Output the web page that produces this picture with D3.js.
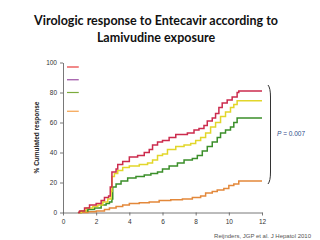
<!DOCTYPE html>
<html>
<head>
<meta charset="utf-8">
<script src="https://cdn.jsdelivr.net/npm/d3@7"></script>
<style>
  body { margin: 0; background: #fff; }
  svg { display: block; }
</style>
</head>
<body>
<script>
// chart size
var W = 320;
var H = 240;

// data (months, % cumulated response)
var redSeries = [[0.9,0],[1.0,1],[1.3,3],[1.6,5],[2.0,6],[2.3,8],[2.5,10],[2.75,11],[2.85,17],[2.95,27],[3.2,29],[3.3,32],[3.6,34],[4.0,37],[4.5,38],[4.9,40],[5.2,42],[5.4,45],[5.7,47],[6.0,48],[6.4,50],[6.8,52],[7.5,53],[7.9,55],[8.2,56],[8.5,58],[8.7,61],[9.0,63],[9.2,66],[9.4,70],[9.6,73],[9.9,75],[10.2,77],[10.5,80],[10.6,81],[12,81]];
var yellowSeries = [[0.9,0],[1.1,1],[1.4,3],[1.8,4],[2.1,5],[2.4,7],[2.7,9],[2.9,14],[2.95,24],[3.1,26],[3.3,28],[3.6,30],[4.0,31],[4.6,32],[5.1,33],[5.4,35],[5.7,38],[6.0,39],[6.3,42],[6.8,44],[7.3,45],[7.7,46],[8.0,48],[8.3,50],[8.6,53],[8.9,57],[9.2,60],[9.5,64],[9.8,67],[10.1,70],[10.3,72],[10.5,74.5],[12,74.5]];
var greenSeries = [[0.9,0],[1.1,1],[1.5,2],[1.9,3],[2.3,5],[2.6,6],[2.8,7],[2.95,9],[3.0,17],[3.2,19],[3.5,21],[3.9,23],[4.4,24],[4.9,25],[5.3,26],[5.7,27],[6.0,29],[6.4,31],[6.9,33],[7.3,35],[7.8,36],[8.1,38],[8.4,41],[8.7,44],[9.0,47],[9.3,50],[9.5,53],[9.8,55],[10.1,57],[10.3,60],[10.5,63],[12,63]];
var orangeSeries = [[1.0,0],[1.5,0.5],[2.0,1],[2.5,2],[2.8,3],[3.2,4],[3.6,5],[4.0,6],[4.6,6.5],[5.2,7],[5.8,8],[6.5,8.5],[7.2,9],[7.8,10],[8.3,11],[8.6,13],[9.0,14],[9.3,15],[9.7,16],[10.0,18],[10.3,19],[10.6,21],[12,21]];

var seriesColors = ["#cc2b4d", "#e2d62a", "#3b8f2a", "#e3883a"];
var legendColors = ["#e8393a", "#9b4fa3", "#7cab3c", "#f5a04a"];
var xTicks = [0, 2, 4, 6, 8, 10, 12];
var yTicks = [0, 20, 40, 60, 80, 100];

var titleLines = ["Virologic response to Entecavir according to", "Lamivudine exposure"];
var yLabel = "% Cumulated response";
var pText = "P = 0.007";
var citation = "Reijnders, JGP et al. J Hepatol 2010";

function main() {
  var svg = d3.select("body").append("svg")
    .attr("width", W)
    .attr("height", H);

  var xScale = d3.scaleLinear().domain([0, 12]).range([63, 262]);
  var yScale = d3.scaleLinear().domain([0, 100]).range([212.5, 62.5]);

  // title
  svg.selectAll("text.title")
    .data(titleLines)
    .enter()
    .append("text")
    .attr("class", "title")
    .attr("x", 156)
    .attr("y", function(d, i) { return 25 + i * 17; })
    .attr("text-anchor", "middle")
    .style("font-family", "Lato, 'Open Sans', sans-serif")
    .style("font-weight", "bold")
    .style("font-size", "12.5px")
    .style("fill", "#111")
    .text(function(d) { return d; });

  // axes
  var xAxis = d3.axisBottom(xScale).tickValues(xTicks).tickSize(3).tickSizeOuter(0);
  var yAxis = d3.axisLeft(yScale).tickValues(yTicks).tickSize(3).tickSizeOuter(0);

  var gx = svg.append("g")
    .attr("transform", "translate(0," + yScale(0) + ")")
    .call(xAxis);
  var gy = svg.append("g")
    .attr("transform", "translate(" + xScale(0) + ",0)")
    .call(yAxis);

  [gx, gy].forEach(function(g) {
    g.selectAll("path, line").attr("stroke", "#555").attr("stroke-width", 0.8);
    g.selectAll("text")
      .style("font-family", "'Liberation Sans', Arial, sans-serif")
      .style("font-size", "6.5px")
      .style("fill", "#333");
  });
  gx.selectAll("text").attr("dy", "0.9em");

  // y label
  svg.append("text")
    .attr("transform", "translate(39," + yScale(50) + ") rotate(-90)")
    .attr("text-anchor", "middle")
    .style("font-family", "'Liberation Sans', Arial, sans-serif")
    .style("font-weight", "bold")
    .style("font-size", "6.5px")
    .style("fill", "#222")
    .text(yLabel);

  // legend stubs (no labels in the figure)
  var legendY = [97, 88.5, 80, 67.5];
  svg.selectAll("line.legend")
    .data(legendColors)
    .enter()
    .append("line")
    .attr("x1", xScale(0.24))
    .attr("x2", xScale(0.95))
    .attr("y1", function(d, i) { return yScale(legendY[i]); })
    .attr("y2", function(d, i) { return yScale(legendY[i]); })
    .attr("stroke", function(d) { return d; })
    .attr("stroke-width", 1.2);

  // step curves
  var line = d3.line()
    .x(function(d) { return xScale(d[0]); })
    .y(function(d) { return yScale(d[1]); })
    .curve(d3.curveStepAfter);

  var allSeries = [orangeSeries, greenSeries, yellowSeries, redSeries];
  var allColors = [seriesColors[3], seriesColors[2], seriesColors[1], seriesColors[0]];
  svg.selectAll("path.curve")
    .data(allSeries)
    .enter()
    .append("path")
    .attr("class", "curve")
    .attr("d", line)
    .attr("fill", "none")
    .attr("stroke", function(d, i) { return allColors[i]; })
    .attr("stroke-width", 1.5);

  // bracket
  var bx = xScale(12) + 7;
  var bTop = yScale(85);
  var bBot = yScale(19);
  svg.append("path")
    .attr("d", "M" + (bx - 1) + "," + bTop + " Q" + (bx + 1.5) + "," + (bTop + 3) + " " + (bx + 1.5) + "," + (bTop + 12) +
               " L" + (bx + 1.5) + "," + (bBot - 12) + " Q" + (bx + 1.5) + "," + (bBot - 3) + " " + (bx - 1) + "," + bBot)
    .attr("fill", "none")
    .attr("stroke", "#333")
    .attr("stroke-width", 1);

  svg.append("text")
    .attr("x", 277)
    .attr("y", 136)
    .style("font-family", "'Liberation Sans', Arial, sans-serif")
    .style("font-size", "6.5px")
    .style("fill", "#2f4b8a")
    .html("<tspan font-style='italic'>P</tspan> = 0.007");

  // citation
  svg.append("text")
    .attr("x", 311)
    .attr("y", 238)
    .attr("text-anchor", "end")
    .style("font-family", "'Liberation Sans', Arial, sans-serif")
    .style("font-size", "6px")
    .style("fill", "#555")
    .text(citation);
}

main();
</script>
</body>
</html>
